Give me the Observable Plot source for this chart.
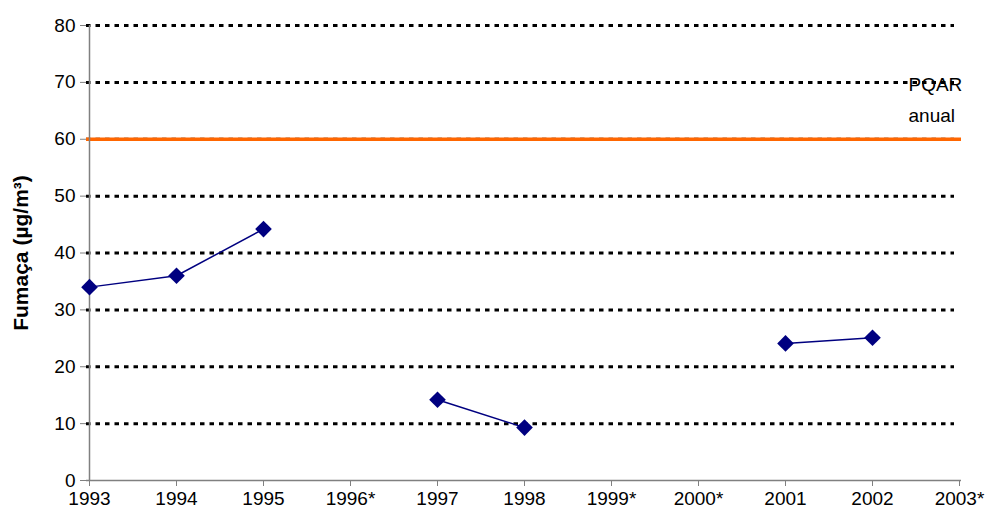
<!DOCTYPE html>
<html>
<head>
<meta charset="utf-8">
<script src="https://cdn.jsdelivr.net/npm/d3@7"></script>
<script src="https://cdn.jsdelivr.net/npm/@observablehq/plot@0.6"></script>
<style>
  html, body { margin: 0; padding: 0; background: #fff; }
  #chart svg { display: block; }
</style>
</head>
<body>
<div id="chart"></div>
<script>
const years = ["1993","1994","1995","1996*","1997","1998","1999*","2000*","2001","2002","2003*"];
const fumaca = [34, 36, 44.2, null, 14.2, 9.3, null, null, 24.1, 25.1, null];
const yTicks = [0, 10, 20, 30, 40, 50, 60, 70, 80];
const gridValues = [10, 20, 30, 40, 50, 60, 70, 80];
const pqarValue = 60;
const pqarLabel = ["PQAR", "anual"];

const data = years.map((y, i) => ({year: y, value: fumaca[i]}));
const points = data.filter(d => d.value != null);

const chart = Plot.plot({
  width: 989,
  height: 519,
  marginLeft: 86,
  marginRight: 28,
  marginTop: 25,
  marginBottom: 39,
  style: {fontFamily: "'Liberation Sans', Arial, sans-serif", fontSize: "19px", color: "#000", background: "#fff"},
  x: {type: "point", domain: years, padding: 0},
  y: {domain: [0, 80]},
  marks: [
    Plot.ruleY(gridValues, {stroke: "#000", strokeWidth: 3, strokeDasharray: "4.5,5", insetRight: 7}),
    Plot.ruleY([pqarValue], {stroke: "#FF6600", strokeWidth: 3.5}),
    Plot.ruleX([0], {x: () => years[0], y1: 0, y2: 80, stroke: "#808080", strokeWidth: 1.5}),
    Plot.ruleY([0], {stroke: "#808080", strokeWidth: 1.5}),
    Plot.axisX({tickSize: 6, tickPadding: 5, stroke: "#808080", label: null}),
    Plot.axisY({ticks: yTicks, tickSize: 6, tickPadding: 5, stroke: "#808080",
      label: "Fumaça (µg/m³)", labelAnchor: "center", labelArrow: "none", labelOffset: 73}),
    Plot.line(data, {x: "year", y: "value", stroke: "#000080", strokeWidth: 1.5}),
    Plot.dot(points, {x: "year", y: "value", symbol: "diamond2", r: 7.5, fill: "#000080", stroke: "none"}),
    Plot.text([pqarLabel[0]], {x: () => "2003*", y: () => 70, dx: -51, dy: 3, textAnchor: "start",
      lineAnchor: "middle", fill: "#000"}),
    Plot.text([pqarLabel[1]], {x: () => "2003*", y: () => 70, dx: -51, dy: 34, textAnchor: "start",
      lineAnchor: "middle", fill: "#000"})
  ]
});
document.getElementById("chart").appendChild(chart);
const svg = d3.select(chart);
svg.selectAll("g[aria-label='x-axis tick label'], g[aria-label='y-axis tick label'], g[aria-label='text']")
  .attr("font-size", 19).selectAll("text").attr("font-size", null);
svg.selectAll("g[aria-label='y-axis label']").attr("font-size", 21).attr("font-weight", "bold");
</script>
</body>
</html>
